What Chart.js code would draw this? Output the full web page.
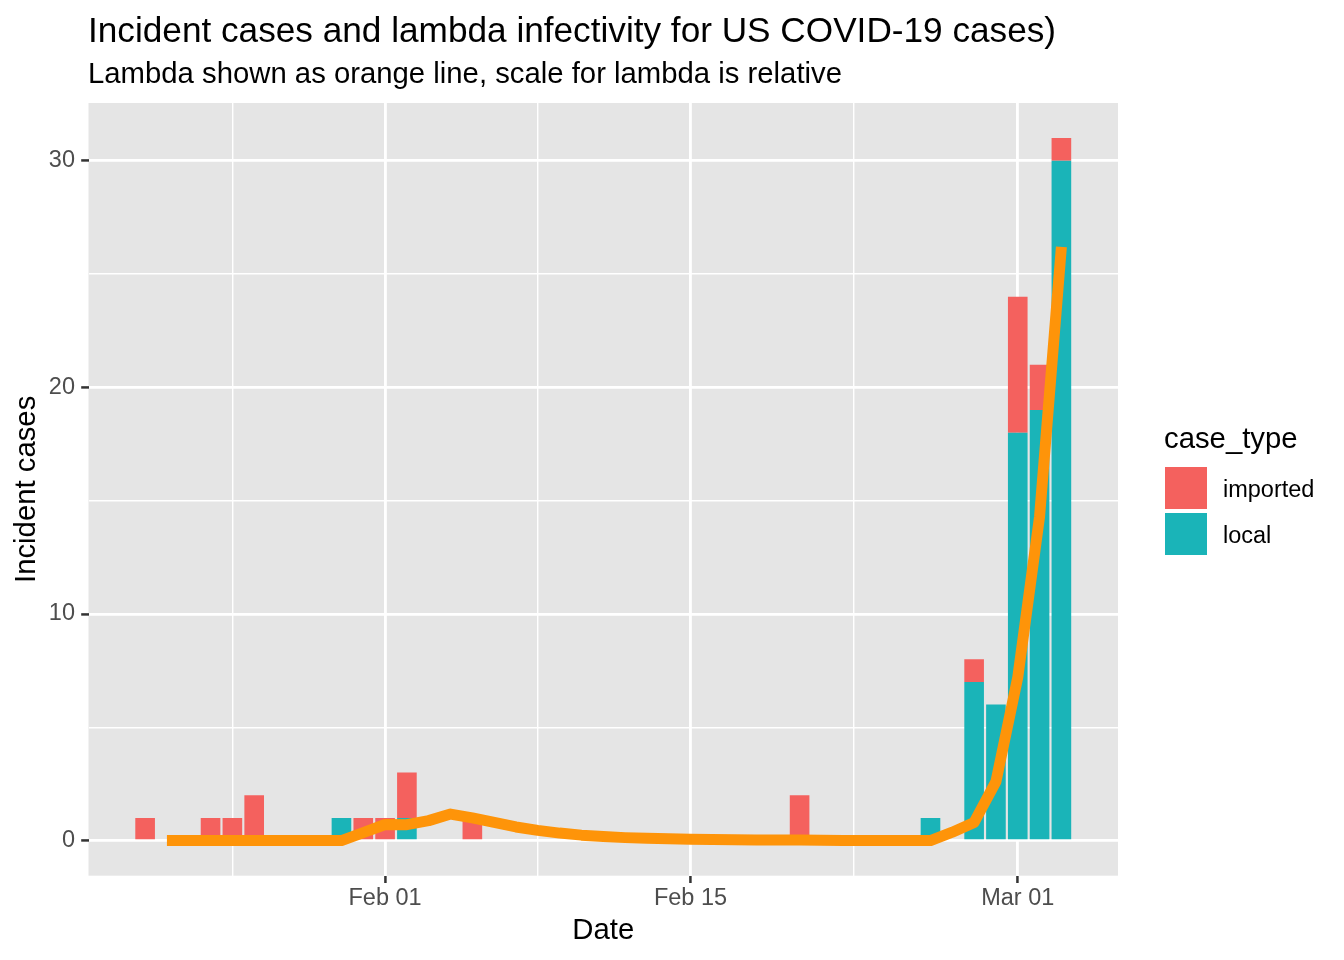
<!DOCTYPE html>
<html>
<head>
<meta charset="utf-8">
<script src="https://cdn.jsdelivr.net/npm/chart.js@4"></script>
<style>
  body { margin: 0; background: #fff; font-family: "Liberation Sans", Arial, Helvetica, sans-serif; }
  #wrap { position: relative; width: 1344px; height: 960px; }
  .txt { position: absolute; white-space: nowrap; line-height: 1; color: #000; }
  .key { position: absolute; width: 42px; height: 42px; }
</style>
</head>
<body>
<div id="wrap">
  <canvas id="chart" width="1344" height="960"></canvas>
  <div class="txt" id="title" style="left:88px; top:12px; font-size:35.2px;"></div>
  <div class="txt" id="subtitle" style="left:88px; top:58px; font-size:29.3px;"></div>
  <div class="txt" id="legendTitle" style="left:1164px; top:423px; font-size:29.3px;"></div>
  <div id="legend"></div>
</div>
<script>
// case counts per report date
const caseDates = ['2020-01-21', '2020-01-24', '2020-01-25', '2020-01-26', '2020-01-30', '2020-01-31',
  '2020-02-01', '2020-02-02', '2020-02-05', '2020-02-20', '2020-02-26', '2020-02-28',
  '2020-02-29', '2020-03-01', '2020-03-02', '2020-03-03'];
const importedCases = [1, 1, 1, 2, 0, 1, 1, 2, 1, 2, 0, 1, 0, 6, 2, 1];
const localCases    = [0, 0, 0, 0, 1, 0, 0, 1, 0, 0, 1, 7, 6, 18, 19, 30];

// lambda, one value per day starting Jan 22
const lambdaStart = '2020-01-22';
const lambdaValues = [0, 0, 0, 0, 0, 0, 0, 0, 0, 0.35,
  0.71, 0.7, 0.88, 1.17, 1.0, 0.8, 0.6, 0.45, 0.33, 0.24, 0.18, 0.13, 0.1, 0.08, 0.06,
  0.05, 0.04, 0.03, 0.02, 0.02, 0.01, 0, 0, 0, 0, 0, 0.37, 0.8, 2.6, 7.2, 14.3, 26.2];

const xTickDates  = ['2020-02-01', '2020-02-15', '2020-03-01'];
const xTickLabels = ['Feb 01', 'Feb 15', 'Mar 01'];
const xMinorDates = ['2020-01-25', '2020-02-08', '2020-02-22T12:00'];
const yTicks = [0, 10, 20, 30];
const yMinor = [5, 15, 25];

const legendLabels = ['imported', 'local'];
const COL_IMPORTED = '#F4615E';
const COL_LOCAL = '#1AB4B8';
const COL_LAMBDA = '#FE9409';

document.getElementById('title').innerText = 'Incident cases and lambda infectivity for US COVID-19 cases)';
document.getElementById('subtitle').innerText = 'Lambda shown as orange line, scale for lambda is relative';
document.getElementById('legendTitle').innerText = 'case_type';

const t0 = Date.parse('2020-01-21T00:00Z');
const dayNum = (s) => (Date.parse(s.length > 10 ? s + 'Z' : s + 'T00:00Z') - t0) / 86400000;

const caseX = caseDates.map(dayNum);
const lambdaX0 = dayNum(lambdaStart);

// ggplot-style expansion: bar half-width 0.45 plus 5%
const span = caseX[caseX.length - 1] - caseX[0] + 0.9;
const xMin = caseX[0] - 0.45 - 0.05 * span;
const xMax = caseX[caseX.length - 1] + 0.45 + 0.05 * span;
const yTop = Math.max(...caseX.map((_, i) => importedCases[i] + localCases[i]));
const yMin = -0.05 * yTop, yMax = yTop * 1.05;

const majorX = xTickDates.map(dayNum);
const minorX = xMinorDates.map(dayNum);

// legend boxes
const legendColors = [COL_IMPORTED, COL_LOCAL];
const legend = document.getElementById('legend');
legendLabels.forEach((lab, i) => {
  const k = document.createElement('div');
  k.className = 'key';
  k.style.left = '1165px';
  k.style.top = (467 + i * 46) + 'px';
  k.style.background = legendColors[i];
  legend.appendChild(k);
  const t = document.createElement('div');
  t.className = 'txt';
  t.style.left = '1223px';
  t.style.top = (478 + i * 46) + 'px';
  t.style.fontSize = '23.5px';
  t.innerText = lab;
  legend.appendChild(t);
});

const panelBg = {
  id: 'panelBg',
  beforeDraw(chart) {
    const { ctx, chartArea: a } = chart;
    ctx.save();
    ctx.fillStyle = '#E5E5E5';
    ctx.fillRect(a.left, a.top, a.right - a.left, a.bottom - a.top);
    ctx.restore();
  }
};

const isMajorX = (v) => majorX.some(m => Math.abs(m - v) < 1e-6);
const isMajorY = (v) => yTicks.includes(v);

new Chart(document.getElementById('chart'), {
  type: 'bar',
  data: {
    datasets: [
      {
        type: 'line',
        label: 'lambda',
        data: lambdaValues.map((v, i) => ({ x: lambdaX0 + i, y: v })),
        borderColor: COL_LAMBDA,
        borderWidth: 11,
        borderCapStyle: 'butt',
        borderJoinStyle: 'round',
        pointRadius: 0,
        tension: 0,
        fill: false,
        stack: 'lambda',
        order: 0
      },
      {
        label: 'local',
        data: localCases.map((v, i) => ({ x: caseX[i], y: v })),
        backgroundColor: COL_LOCAL,
        borderWidth: 0,
        stack: 'cases',
        order: 1
      },
      {
        label: 'imported',
        data: importedCases.map((v, i) => ({ x: caseX[i], y: v })),
        backgroundColor: COL_IMPORTED,
        borderWidth: 0,
        stack: 'cases',
        order: 1
      }
    ]
  },
  options: {
    responsive: false,
    animation: false,
    barPercentage: 0.9,
    categoryPercentage: 1.0,
    layout: { padding: { top: 103, right: 226, left: 0, bottom: 0 } },
    plugins: { legend: { display: false }, tooltip: { enabled: false } },
    scales: {
      x: {
        type: 'linear',
        stacked: true,
        offset: false,
        min: xMin,
        max: xMax,
        afterBuildTicks(scale) {
          scale.ticks = [...minorX, ...majorX].sort((a, b) => a - b).map(v => ({ value: v }));
        },
        afterFit(scale) { scale.height = 84.3; },
        ticks: {
          autoSkip: false,
          maxRotation: 0,
          padding: 1.5,
          color: '#4D4D4D',
          font: { family: '"Liberation Sans", Arial, sans-serif', size: 23.5 },
          callback(v) {
            const i = majorX.findIndex(m => Math.abs(m - v) < 1e-6);
            return i >= 0 ? xTickLabels[i] : '';
          }
        },
        grid: {
          offset: false,
          color: '#FFFFFF',
          lineWidth: (c) => isMajorX(c.tick.value) ? 2.85 : 1.42,
          tickLength: 7.3,
          tickWidth: 2.5,
          tickColor: (c) => isMajorX(c.tick.value) ? '#333333' : 'rgba(0,0,0,0)'
        },
        border: { display: false },
        title: {
          display: true,
          text: 'Date',
          color: '#000',
          padding: { top: 0, bottom: 12 },
          font: { family: '"Liberation Sans", Arial, sans-serif', size: 29.3 }
        }
      },
      y: {
        stacked: true,
        min: yMin,
        max: yMax,
        afterBuildTicks(scale) {
          scale.ticks = [...yTicks, ...yMinor].sort((a, b) => a - b).map(v => ({ value: v }));
        },
        afterFit(scale) { scale.width = 88.5; },
        ticks: {
          padding: 6.2,
          color: '#4D4D4D',
          font: { family: '"Liberation Sans", Arial, sans-serif', size: 23.5 },
          callback(v) { return isMajorY(v) ? String(v) : ''; }
        },
        grid: {
          color: '#FFFFFF',
          lineWidth: (c) => isMajorY(c.tick.value) ? 2.85 : 1.42,
          tickLength: 7.3,
          tickWidth: 2.5,
          tickColor: (c) => isMajorY(c.tick.value) ? '#333333' : 'rgba(0,0,0,0)'
        },
        border: { display: false },
        title: {
          display: true,
          text: 'Incident cases',
          color: '#000',
          padding: { top: 9.4, bottom: 0 },
          font: { family: '"Liberation Sans", Arial, sans-serif', size: 29.3 }
        }
      }
    }
  },
  plugins: [panelBg]
});
</script>
</body>
</html>
